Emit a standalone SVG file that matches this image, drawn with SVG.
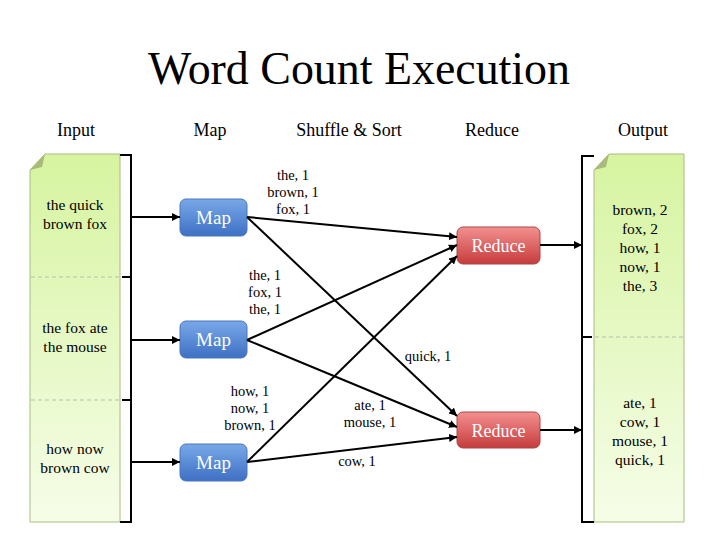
<svg xmlns="http://www.w3.org/2000/svg" width="720" height="540" viewBox="0 0 720 540">
<defs>
<linearGradient id="gDoc" x1="0" y1="0" x2="0" y2="1"><stop offset="0" stop-color="#d6f4a0"/><stop offset="1" stop-color="#f6fde8"/></linearGradient>
<linearGradient id="gMap" x1="0" y1="0" x2="0" y2="1"><stop offset="0" stop-color="#79a8e8"/><stop offset="1" stop-color="#3e70c4"/></linearGradient>
<linearGradient id="gRed" x1="0" y1="0" x2="0" y2="1"><stop offset="0" stop-color="#f49090"/><stop offset="1" stop-color="#c63c3c"/></linearGradient>
<marker id="arr" viewBox="0 0 10 10" refX="10" refY="5" markerWidth="8" markerHeight="8" markerUnits="userSpaceOnUse" orient="auto"><path d="M0,0 L10,5 L0,10 z" fill="#000"/></marker>
</defs>
<style>
text{font-family:"Liberation Serif","DejaVu Serif",serif;fill:#000;text-anchor:middle}
.hdr{font-size:18px}
.doc{font-size:15.5px}
.lbl{font-size:14.5px}
.box{font-size:19px;fill:#fff}
.rbox{font-size:18px;fill:#fff}
.line{stroke:#000;stroke-width:2;fill:none}
.dash{stroke:#b8c0a8;stroke-width:1;stroke-dasharray:4,3}
</style>
<rect width="720" height="540" fill="#fff"/>
<text x="359" y="84" font-size="46" textLength="422" lengthAdjust="spacingAndGlyphs">Word Count Execution</text>
<g id="headers">
<text class="hdr" x="76" y="136">Input</text>
<text class="hdr" x="210" y="136">Map</text>
<text class="hdr" x="349" y="136">Shuffle &amp; Sort</text>
<text class="hdr" x="492" y="136">Reduce</text>
<text class="hdr" x="643" y="136">Output</text>
</g>
<g id="input">
<path d="M45,154 L120,154 L120,522 L30,522 L30,170 Z" fill="url(#gDoc)" stroke="#a8bc80" stroke-width="1"/>
<path d="M30,170 L45,154 L42,167 Z" fill="#a9ba7a"/>
<line class="dash" x1="31" y1="277" x2="119" y2="277"/>
<line class="dash" x1="31" y1="400" x2="119" y2="400"/>
<text class="doc" x="75" y="210">the quick</text>
<text class="doc" x="75" y="229">brown fox</text>
<text class="doc" x="75" y="333">the fox ate</text>
<text class="doc" x="75" y="352">the mouse</text>
<text class="doc" x="75" y="454">how now</text>
<text class="doc" x="75" y="473">brown cow</text>
<path class="line" d="M120,155 L131,155 L131,522 L120,522 M122,277 L131,277 M122,400 L131,400"/>
</g>
<g id="output">
<path d="M609,154 L684,154 L684,522 L594,522 L594,170 Z" fill="url(#gDoc)" stroke="#a8bc80" stroke-width="1"/>
<path d="M594,170 L609,154 L606,167 Z" fill="#a9ba7a"/>
<line class="dash" x1="595" y1="337" x2="683" y2="337"/>
<text class="doc" x="640" y="215">brown, 2</text>
<text class="doc" x="640" y="234">fox, 2</text>
<text class="doc" x="640" y="253">how, 1</text>
<text class="doc" x="640" y="272">now, 1</text>
<text class="doc" x="640" y="291">the, 3</text>
<text class="doc" x="640" y="408">ate, 1</text>
<text class="doc" x="640" y="427">cow, 1</text>
<text class="doc" x="640" y="446">mouse, 1</text>
<text class="doc" x="640" y="465">quick, 1</text>
<path class="line" d="M594,156 L582,156 L582,522 L594,522 M582,337 L592,337"/>
</g>
<g id="map1"><rect x="180" y="199" width="67" height="37" rx="6" fill="url(#gMap)" stroke="#4a78bc"/><text class="box" x="213.5" y="224">Map</text></g>
<g id="map2"><rect x="180" y="321" width="67" height="37" rx="6" fill="url(#gMap)" stroke="#4a78bc"/><text class="box" x="213.5" y="346">Map</text></g>
<g id="map3"><rect x="180" y="444" width="67" height="37" rx="6" fill="url(#gMap)" stroke="#4a78bc"/><text class="box" x="213.5" y="469">Map</text></g>
<g id="reduce1"><rect x="457" y="227" width="83" height="37" rx="6" fill="url(#gRed)" stroke="#a84848"/><text class="rbox" x="498.5" y="251.5">Reduce</text></g>
<g id="reduce2"><rect x="457" y="412" width="83" height="36" rx="6" fill="url(#gRed)" stroke="#a84848"/><text class="rbox" x="498.5" y="436.5">Reduce</text></g>
<g id="connectors">
<line class="line" x1="131" y1="217" x2="180" y2="217" marker-end="url(#arr)"/>
<line class="line" x1="131" y1="340" x2="180" y2="340" marker-end="url(#arr)"/>
<line class="line" x1="131" y1="462" x2="180" y2="462" marker-end="url(#arr)"/>
<line class="line" x1="247" y1="217" x2="457" y2="237" marker-end="url(#arr)"/>
<line class="line" x1="247" y1="217" x2="457" y2="416" marker-end="url(#arr)"/>
<line class="line" x1="247" y1="340" x2="457" y2="245" marker-end="url(#arr)"/>
<line class="line" x1="247" y1="340" x2="457" y2="427" marker-end="url(#arr)"/>
<line class="line" x1="247" y1="462" x2="457" y2="256" marker-end="url(#arr)"/>
<line class="line" x1="247" y1="462" x2="457" y2="437" marker-end="url(#arr)"/>
<line class="line" x1="540" y1="245" x2="582" y2="245" marker-end="url(#arr)"/>
<line class="line" x1="540" y1="430" x2="582" y2="430" marker-end="url(#arr)"/>
</g>
<g id="labels">
<text class="lbl" x="293" y="180">the, 1</text>
<text class="lbl" x="293" y="197">brown, 1</text>
<text class="lbl" x="293" y="214">fox, 1</text>
<text class="lbl" x="265" y="280">the, 1</text>
<text class="lbl" x="265" y="297">fox, 1</text>
<text class="lbl" x="265" y="314">the, 1</text>
<text class="lbl" x="428" y="361">quick, 1</text>
<text class="lbl" x="250" y="396">how, 1</text>
<text class="lbl" x="250" y="413">now, 1</text>
<text class="lbl" x="250" y="430">brown, 1</text>
<text class="lbl" x="370" y="410">ate, 1</text>
<text class="lbl" x="370" y="427">mouse, 1</text>
<text class="lbl" x="357" y="466">cow, 1</text>
</g>
</svg>
